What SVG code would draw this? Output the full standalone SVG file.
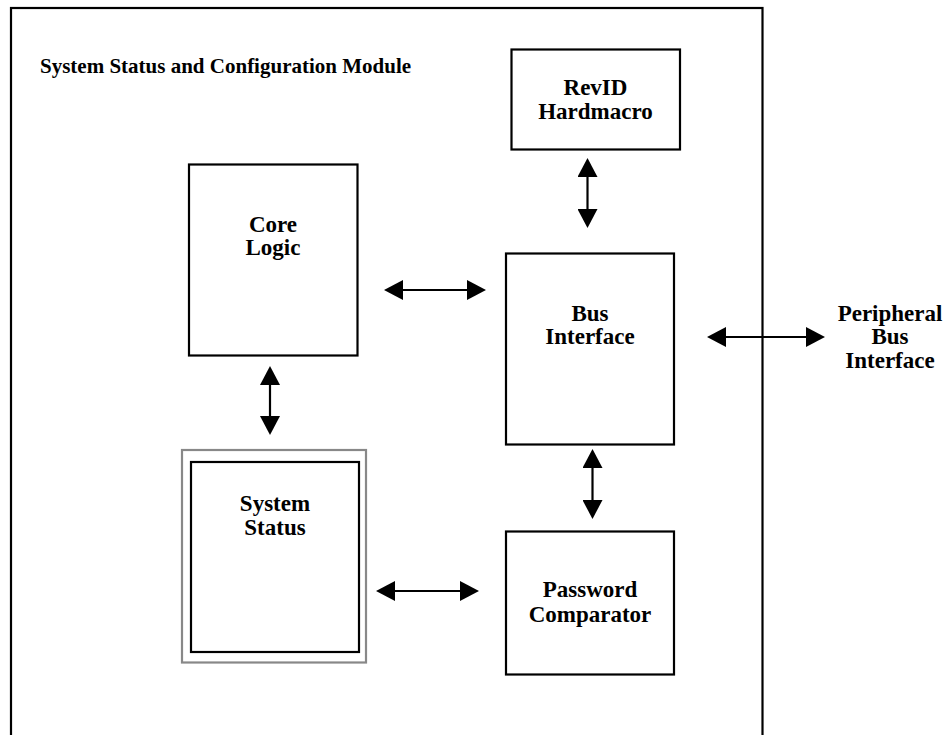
<svg xmlns="http://www.w3.org/2000/svg" width="950" height="735" viewBox="0 0 950 735">
  <defs>
    <style>
      .box { fill: #ffffff; stroke: #000000; stroke-width: 2.2; }
      .gray { fill: #ffffff; stroke: #888888; stroke-width: 2.2; }
      .lbl { font-family: "Liberation Serif", "Times New Roman", serif; font-weight: bold; font-size: 23px; text-anchor: middle; fill: #000000; }
      .title { font-family: "Liberation Serif", "Times New Roman", serif; font-weight: bold; font-size: 21px; fill: #000000; }
      .conn { stroke: #000000; stroke-width: 2.2; fill: none; marker-start: url(#ah); marker-end: url(#ah); }
    </style>
    <marker id="ah" markerUnits="userSpaceOnUse" markerWidth="20" markerHeight="20" refX="5" refY="10" orient="auto-start-reverse" viewBox="0 0 20 20">
      <path d="M0,0 L19,10 L0,20 z" fill="#000000"/>
    </marker>
  </defs>
  <rect width="950" height="735" fill="#ffffff"/>

  <g id="module">
    <rect x="11" y="8" width="751.5" height="745" fill="none" stroke="#000000" stroke-width="2.2"/>
    <text class="title" x="40" y="73">System Status and Configuration Module</text>
  </g>

  <g id="revid">
    <rect class="box" x="511.5" y="49.5" width="168.5" height="100"/>
    <text class="lbl" x="595.5" y="95">RevID</text>
    <text class="lbl" x="595.5" y="119">Hardmacro</text>
  </g>

  <g id="core-logic">
    <rect class="box" x="189" y="164.5" width="168.5" height="191"/>
    <text class="lbl" x="273" y="232">Core</text>
    <text class="lbl" x="273" y="255">Logic</text>
  </g>

  <g id="bus-interface">
    <rect class="box" x="506" y="253.5" width="168" height="191"/>
    <text class="lbl" x="590" y="321">Bus</text>
    <text class="lbl" x="590" y="344">Interface</text>
  </g>

  <g id="system-status">
    <rect class="gray" x="182" y="450" width="184" height="212.5"/>
    <rect class="box" x="191" y="462" width="168" height="190"/>
    <text class="lbl" x="275" y="511">System</text>
    <text class="lbl" x="275" y="535">Status</text>
  </g>

  <g id="password-comparator">
    <rect class="box" x="506" y="531.5" width="168" height="143"/>
    <text class="lbl" x="590" y="597">Password</text>
    <text class="lbl" x="590" y="622">Comparator</text>
  </g>

  <g id="peripheral-bus">
    <text class="lbl" x="890" y="321">Peripheral</text>
    <text class="lbl" x="890" y="344">Bus</text>
    <text class="lbl" x="890" y="368">Interface</text>
  </g>

  <g id="connectors">
    <line class="conn" x1="587.5" y1="172" x2="587.5" y2="214"/>
    <line class="conn" x1="398" y1="290" x2="472" y2="290"/>
    <line class="conn" x1="270" y1="380" x2="270" y2="421"/>
    <line class="conn" x1="592.5" y1="463" x2="592.5" y2="505"/>
    <line class="conn" x1="721" y1="337" x2="811" y2="337"/>
    <line class="conn" x1="390" y1="591" x2="465" y2="591"/>
  </g>
</svg>
